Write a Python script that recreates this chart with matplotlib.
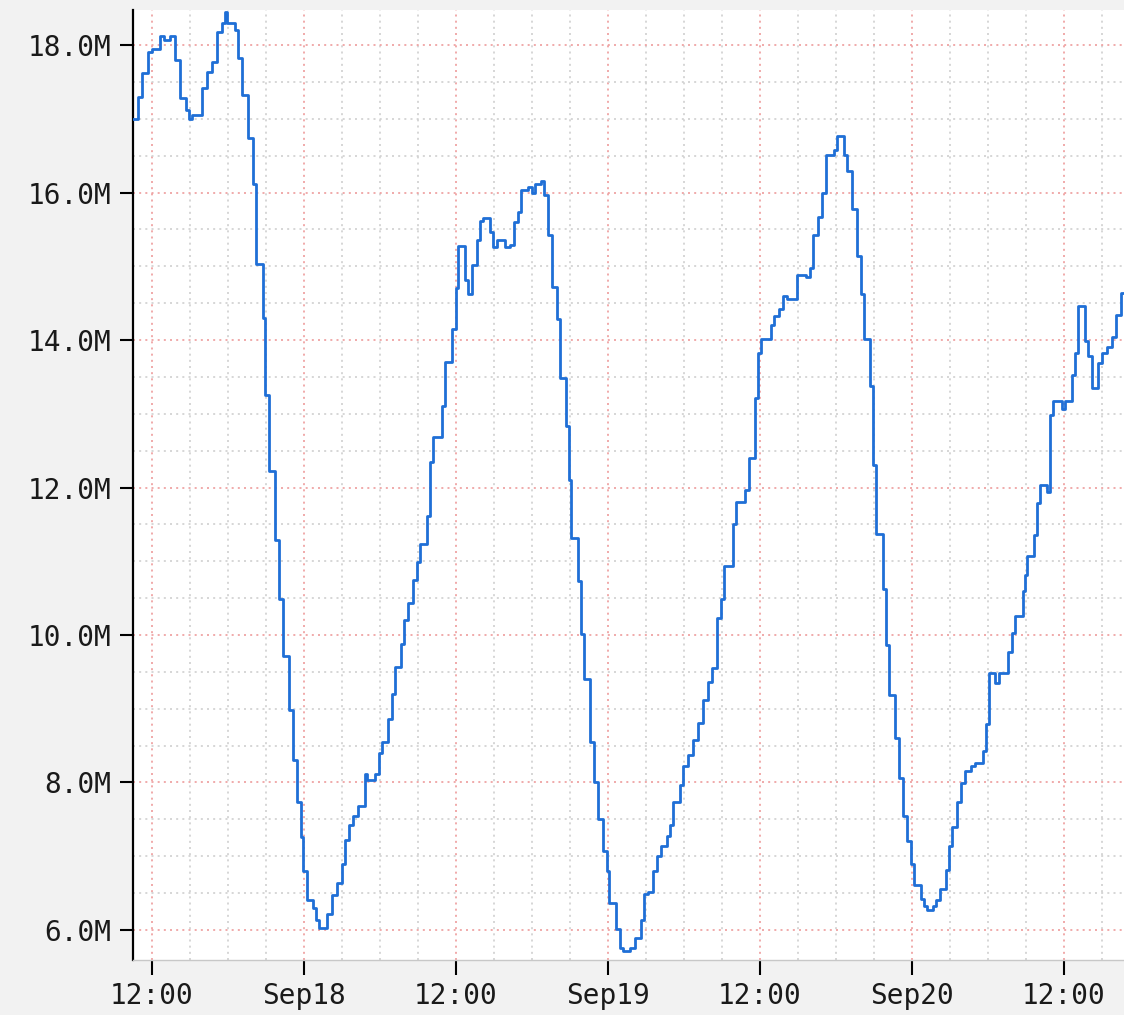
import numpy as np
import pandas as pd
import matplotlib
matplotlib.use("Agg")
import matplotlib.pyplot as plt
import matplotlib.dates as mdates
from matplotlib.ticker import MultipleLocator, FuncFormatter

# step start times, hours after Sep17 00:00
hours = [
    10.50, 10.89, 11.21, 11.68, 12.00, 12.63, 12.95, 13.42, 13.82, 14.21,
    14.68, 14.92, 15.16, 15.95, 16.34, 16.74, 17.13, 17.53, 17.76, 17.92,
    18.55, 18.79, 19.11, 19.58, 19.97, 20.21, 20.76, 20.92, 21.24, 21.71,
    22.03, 22.34, 22.82, 23.13, 23.45, 23.76, 23.92, 24.24, 24.71, 24.95,
    25.18, 25.82, 26.21, 26.61, 27.00, 27.24, 27.55, 27.87, 28.26, 28.82,
    28.97, 29.61, 29.92, 30.16, 30.63, 30.95, 31.18, 31.66, 31.89, 32.21,
    32.61, 32.92, 33.16, 33.71, 33.95, 34.18, 34.89, 35.13, 35.68, 36.00,
    36.16, 36.71, 36.95, 37.26, 37.66, 37.89, 38.13, 38.68, 38.92, 39.24,
    39.87, 40.26, 40.58, 40.89, 41.13, 41.68, 42.00, 42.24, 42.71, 42.95,
    43.26, 43.58, 43.97, 44.21, 44.68, 44.92, 45.08, 45.63, 45.87, 46.11,
    46.58, 46.89, 47.21, 47.61, 47.92, 48.08, 48.63, 48.95, 49.18, 49.74,
    50.13, 50.61, 50.84, 51.16, 51.55, 51.87, 52.18, 52.66, 52.89, 53.13,
    53.68, 53.92, 54.32, 54.71, 55.11, 55.50, 55.89, 56.21, 56.61, 56.92,
    57.16, 57.87, 58.11, 58.82, 59.13, 59.61, 59.84, 60.08, 60.87, 61.11,
    61.50, 61.82, 62.13, 62.92, 63.63, 63.95, 64.18, 64.58, 64.89, 65.21,
    65.84, 66.08, 66.63, 66.87, 67.26, 67.66, 67.97, 68.21, 68.68, 68.92,
    69.16, 69.71, 69.95, 70.18, 70.66, 70.97, 71.29, 71.61, 71.92, 72.16,
    72.71, 72.95, 73.18, 73.66, 73.89, 74.21, 74.68, 74.92, 75.16, 75.55,
    75.87, 76.18, 76.66, 76.97, 77.61, 77.84, 78.08, 78.55, 78.87, 79.58,
    79.89, 80.13, 80.76, 80.92, 81.08, 81.63, 81.87, 82.11, 82.66, 82.89,
    83.13, 83.84, 84.08, 84.63, 84.87, 85.11, 85.66, 85.89, 86.21, 86.68,
    87.00, 87.39, 87.79, 88.11, 88.50, 88.74,
]

# values in millions
values_m = [
    17.00, 17.30, 17.62, 17.90, 17.95, 18.12, 18.07, 18.12, 17.80, 17.28,
    17.12, 17.00, 17.05, 17.42, 17.63, 17.77, 18.17, 18.30, 18.45, 18.30,
    18.20, 17.82, 17.32, 16.74, 16.11, 15.03, 14.30, 13.26, 12.23, 11.29,
    10.49, 9.71, 8.98, 8.30, 7.74, 7.26, 6.80, 6.41, 6.30, 6.13,
    6.03, 6.22, 6.47, 6.64, 6.89, 7.22, 7.43, 7.55, 7.68, 8.12,
    8.03, 8.12, 8.40, 8.55, 8.86, 9.20, 9.57, 9.88, 10.20, 10.44,
    10.75, 10.99, 11.24, 11.62, 12.35, 12.69, 13.11, 13.70, 14.15, 14.70,
    15.27, 14.81, 14.63, 15.02, 15.36, 15.62, 15.65, 15.47, 15.26, 15.36,
    15.26, 15.29, 15.60, 15.74, 16.04, 16.08, 15.99, 16.11, 16.16, 15.97,
    15.42, 14.72, 14.29, 13.48, 12.83, 12.10, 11.31, 10.73, 10.02, 9.40,
    8.55, 8.01, 7.51, 7.07, 6.80, 6.36, 6.02, 5.75, 5.72, 5.75,
    5.89, 6.14, 6.49, 6.52, 6.80, 7.00, 7.14, 7.28, 7.42, 7.73,
    7.97, 8.23, 8.37, 8.57, 8.81, 9.12, 9.36, 9.55, 10.23, 10.49,
    10.93, 11.51, 11.81, 11.96, 12.40, 13.21, 13.82, 14.01, 14.20, 14.32,
    14.42, 14.60, 14.55, 14.88, 14.85, 14.97, 15.43, 15.67, 16.00, 16.51,
    16.57, 16.77, 16.51, 16.29, 15.78, 15.14, 14.63, 14.01, 13.38, 12.31,
    11.37, 10.63, 9.86, 9.18, 8.61, 8.06, 7.54, 7.20, 6.90, 6.61,
    6.42, 6.33, 6.27, 6.33, 6.40, 6.56, 6.81, 7.14, 7.40, 7.73,
    7.99, 8.15, 8.23, 8.26, 8.43, 8.79, 9.49, 9.35, 9.49, 9.77,
    10.03, 10.26, 10.59, 10.81, 11.07, 11.36, 11.79, 12.04, 11.94, 12.98,
    13.17, 13.07, 13.17, 13.52, 13.83, 14.46, 13.99, 13.78, 13.35, 13.69,
    13.82, 13.90, 14.04, 14.34, 14.64, 14.64,
]

base = pd.Timestamp("2023-09-17 00:00")
times = base + pd.to_timedelta(hours, unit="h")

BG = "#f2f2f2"
LINE = "#1f6fd6"
MAJOR = "#ee9c9c"
MINOR = "#cfcfcf"

fig = plt.figure(figsize=(11.24, 10.15), dpi=100, facecolor=BG)
ax = fig.add_axes([133 / 1124, 55 / 1015, 991 / 1124, 950 / 1015])
ax.set_facecolor("white")

ax.step(times, values_m, where="post", color=LINE, lw=2.0, zorder=3)

ax.set_xlim(times[0], times[-1])
ax.set_ylim(5.593, 18.475)

ax.xaxis.set_major_locator(mdates.HourLocator(byhour=[0, 12]))
ax.xaxis.set_minor_locator(mdates.HourLocator(byhour=range(0, 24, 3)))


def fmt_x(x, pos):
    d = mdates.num2date(x)
    if d.hour == 0:
        return d.strftime("%b%d")
    return d.strftime("%H:%M")


ax.xaxis.set_major_formatter(FuncFormatter(fmt_x))
ax.yaxis.set_major_locator(MultipleLocator(2))
ax.yaxis.set_minor_locator(MultipleLocator(0.5))
ax.yaxis.set_major_formatter(FuncFormatter(lambda v, p: f"{v:.1f}M"))

ax.grid(which="minor", color=MINOR, lw=1.2, linestyle=(0, (1.2, 2.5)), zorder=0)
ax.grid(which="major", color=MAJOR, lw=1.2, linestyle=(0, (1.2, 2.5)), zorder=1)

for s in ["top", "right"]:
    ax.spines[s].set_visible(False)
ax.spines["left"].set_color("black")
ax.spines["left"].set_linewidth(1.6)
ax.spines["bottom"].set_color("#c8c8c8")
ax.spines["bottom"].set_linewidth(1.0)

ax.tick_params(axis="both", which="minor", length=0)
ax.tick_params(axis="y", which="major", length=9.5, width=1.5, color="black",
               pad=6, direction="out")
ax.tick_params(axis="x", which="major", length=11, width=1.5, color="black",
               pad=5, direction="out")
for lab in ax.get_xticklabels() + ax.get_yticklabels():
    lab.set_family("DejaVu Sans Mono")
    lab.set_fontsize(20)
    lab.set_color("#1a1a1a")

fig.savefig("out.png", dpi=100, facecolor=BG)
